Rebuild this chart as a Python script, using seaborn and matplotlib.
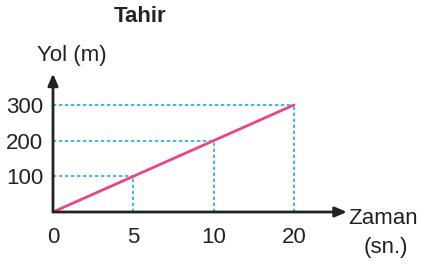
import numpy as np
import pandas as pd
import seaborn as sns
import matplotlib.pyplot as plt

# values
time_labels = ["0", "5", "10", "20"]   # Zaman (sn.) - drawn at equal spacing
distance = [0, 100, 200, 300]          # Yol (m)
y_ticks = [100, 200, 300]

sns.set_style("white")
plt.rcParams["font.family"] = ["Liberation Sans", "DejaVu Sans"]

df = pd.DataFrame({"pos": np.arange(len(time_labels)), "yol": distance})

fig = plt.figure(figsize=(4.27, 2.64), dpi=100)
ax = fig.add_axes([53 / 427, 52 / 264, 300 / 427, 145 / 264])

# dotted guide lines from each point to the axes
guide = dict(color="#2aa7dc", lw=1.2, linestyle=(0, (2, 1.6)))
for p, y in zip(df["pos"][1:], df["yol"][1:]):
    ax.plot([0, p], [y, y], **guide)
    ax.plot([p, p], [0, y], **guide)

# the distance-time line
sns.lineplot(data=df, x="pos", y="yol", color="#e9468a", lw=2, ax=ax)

ax.set_xlim(0, 3.736)
ax.set_ylim(0, 406.5)
for s in ax.spines.values():
    s.set_visible(False)

# axis arrows
arrow = dict(arrowstyle="-|>,head_length=0.7,head_width=0.3", color="#222222",
             lw=2, shrinkA=0, shrinkB=0)
ax.annotate("", xy=(3.66, 0), xytext=(0, 0), arrowprops=arrow, annotation_clip=False)
ax.annotate("", xy=(0, 388), xytext=(0, 0), arrowprops=arrow, annotation_clip=False)

ax.set_xticks(df["pos"], time_labels)
ax.set_yticks(y_ticks, [str(v) for v in y_ticks])
ax.tick_params(axis="x", length=0, pad=10.5, labelsize=16, labelcolor="#222222")
ax.tick_params(axis="y", length=0, pad=7, labelsize=16, labelcolor="#222222")
ax.set_xlabel("")
ax.set_ylabel("")

fig.text(140 / 427, 1 - 16 / 264, "Tahir", ha="center", va="center",
         fontsize=16, fontweight="bold", color="#222222")
fig.text(72 / 427, 1 - 56 / 264, "Yol (m)", ha="center", va="center",
         fontsize=16, color="#222222")
fig.text(348 / 427, 1 - 219 / 264, "Zaman", ha="left", va="center",
         fontsize=16, color="#222222")
fig.text(386 / 427, 1 - 247 / 264, "(sn.)", ha="center", va="center",
         fontsize=16, color="#222222")

plt.savefig("out.png", dpi=100)
plt.close()
